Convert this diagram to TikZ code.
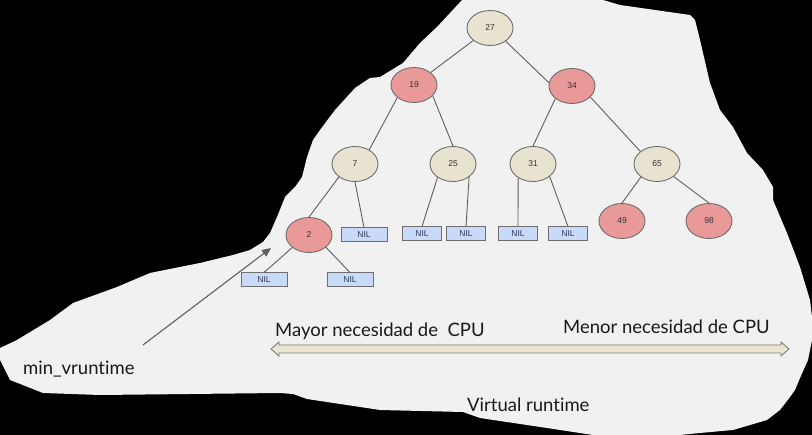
\documentclass[tikz,border=0pt]{standalone}
\usepackage{fontspec}
\setmainfont{Liberation Sans}
\newfontfamily\gillfont[Ligatures={NoCommon,NoRequired,NoContextual}]{Lato}
\usetikzlibrary{shapes.geometric,arrows.meta}
\definecolor{blobfill}{HTML}{F1F1F1}
\definecolor{beige}{HTML}{E8E2D0}
\definecolor{rednode}{HTML}{EA9999}
\definecolor{nilfill}{HTML}{C9DAF8}
\definecolor{nodeedge}{HTML}{6E6E6E}
\definecolor{edgecol}{HTML}{5F5F5F}
\definecolor{labeltext}{HTML}{333333}
\definecolor{niltext}{HTML}{2E3560}
\definecolor{arrowfill}{HTML}{EAE4D0}
\definecolor{arrowedge}{HTML}{7F7F7F}
\begin{document}
\begin{tikzpicture}[x=1pt,y=-1pt,
  rb/.style={ellipse, draw=nodeedge, line width=0.9pt, minimum width=46pt, minimum height=35pt, inner sep=0pt, font=\fontsize{8.5}{9}\selectfont, text=labeltext},
  bnode/.style={rb, fill=beige},
  rnode/.style={rb, fill=rednode},
  nilbox/.style={rectangle, draw=nodeedge, fill=nilfill, line width=1pt, minimum height=14pt, inner sep=0pt, font=\fontsize{8.5}{9}\selectfont, text=niltext},
  wide/.style={minimum width=46pt},
  narrow/.style={minimum width=39pt},
  edge/.style={draw=edgecol, line width=0.9pt},
  bigtext/.style={font=\gillfont\fontsize{18.5}{20}\selectfont, text=black!90, anchor=base west, inner sep=0pt}]
\useasboundingbox (0,0) rectangle (812,435);
\fill[black] (0,0) rectangle (812,435);
\fill[blobfill] (462,0) -- (603,0) -- (620,5) -- (690,15) -- (695,20) -- (700,40) -- (710,83) -- (720,110) -- (733,127) -- (740,140) -- (747,153) -- (763,170) -- (773,187) -- (773,200) -- (787,233) -- (800,267) -- (810,300) -- (812,317) -- (812,340) -- (808,360) -- (800,378) -- (795,390) -- (790,397) -- (780,410) -- (767,420) -- (733,430) -- (700,433) -- (680,435) -- (593,435) -- (547,428) -- (480,418) -- (463,412) -- (380,410) -- (307,399) -- (293,394) -- (280,393) -- (100,395) -- (43,393) -- (10,380) -- (0,360) -- (0,348) -- (17,340) -- (50,320) -- (73,303) -- (117,287) -- (150,273) -- (200,263) -- (233,255) -- (250,250) -- (263,242) -- (270,233) -- (277,217) -- (285,197) -- (295,187) -- (302,177) -- (307,157) -- (313,140) -- (320,130) -- (335,110) -- (355,88) -- (370,78) -- (380,77) -- (403,63) -- (420,43) -- (437,27) -- (450,13) -- cycle;

% tree nodes
\node[bnode] (n27) at (490,28) {27};
\node[rnode] (n19) at (414,85) {19};
\node[rnode] (n34) at (572,86) {34};
\node[bnode] (n7) at (355,164) {7};
\node[bnode] (n25) at (453,164) {25};
\node[bnode] (n31) at (533,164) {31};
\node[bnode] (n65) at (657,164) {65};
\node[rnode] (n2) at (309,235) {2};
\node[rnode] (n49) at (622,221) {49};
\node[rnode] (n98) at (709,221) {98};
\node[nilbox,wide] (nil7) at (364,235) {NIL};
\node[nilbox,narrow] (nil25a) at (422,234) {NIL};
\node[nilbox,narrow] (nil25b) at (466,234) {NIL};
\node[nilbox,narrow] (nil31a) at (518,234) {NIL};
\node[nilbox,narrow] (nil31b) at (568,234) {NIL};
\node[nilbox,wide] (nil2a) at (264,280) {NIL};
\node[nilbox,wide] (nil2b) at (350,280) {NIL};

% tree edges
\path[edge] (n27) -- (n19);
\path[edge] (n27.320) -- (n34.172);
\path[edge] (n19.217) -- (n7.45);
\path[edge] (n19.330) -- (n25.north);
\path[edge] (n34.217) -- (n31.north);
\path[edge] (n34.329) -- (n65.143);
\path[edge] (n7.219) -- (n2.north);
\path[edge] (n7.south) -- (nil7.north);
\path[edge] (n25.221) -- (nil25a.north);
\path[edge] (n25.321) -- (nil25b.north);
\path[edge] (n31.223) -- (nil31a.north);
\path[edge] (n31.323) -- (nil31b.north);
\path[edge] (n65.219) -- (n49.north);
\path[edge] (n65.323) -- (n98.north);
\path[edge] (n2.217) -- (nil2a.north);
\path[edge] (n2.324) -- (nil2b.north);

% min_vruntime pointer
\node[bigtext] (minv) at (23,375) {min\_vruntime};
\coordinate (mvs) at (143,345);
\coordinate (mve) at (271,248);
\draw[edgecol, line width=1.1pt, -{Triangle[length=9pt,width=8pt]}] (mvs) -- (mve);

% double arrow
\draw[arrowedge, fill=arrowfill, line width=0.9pt, line join=miter]
  (271,349) -- (279,342) -- (279,345) -- (781,345) -- (781,342) -- (789,349) -- (781,356) -- (781,353) -- (279,353) -- (279,356) -- cycle;

\node[bigtext] (mayor) at (275,337) {Mayor necesidad de\ \ CPU};
\node[bigtext] (menor) at (563,334) {Menor necesidad de CPU};
\node[bigtext] (vrt) at (467,412) {Virtual runtime};
\end{tikzpicture}
\end{document}
